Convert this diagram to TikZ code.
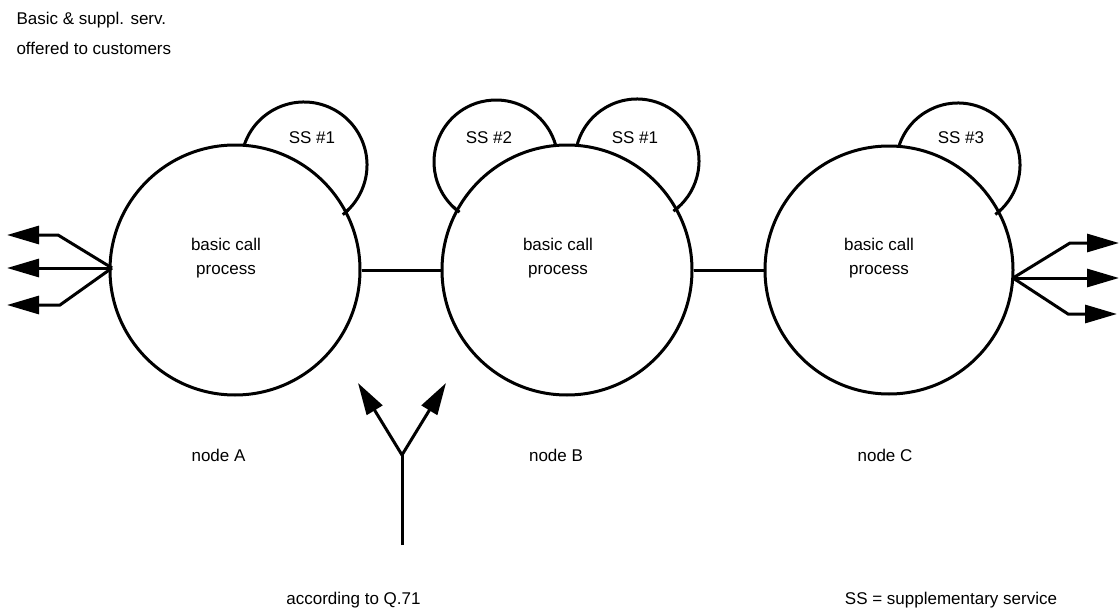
\documentclass[tikz,border=0pt]{standalone}
\usepackage{fontspec}
\setmainfont{Liberation Sans}
\usetikzlibrary{arrows.meta}

\begin{document}
\begin{tikzpicture}[x=1pt,y=1pt,
    line width=3pt,
    proc/.style={circle,draw,inner sep=0pt,minimum size=250pt},
    lbl/.style={inner sep=0pt,anchor=base,font=\fontsize{17}{20}\selectfont},
    lbll/.style={lbl,anchor=base west},
    ssarc/.style={line width=3pt},
    arrowout/.style={-{Triangle[length=32pt,width=18pt]}},
  ]
  \useasboundingbox (0,0) rectangle (1120,-610);

  % heading
  \node[lbll] (h1) at (15,-25) {Basic \& suppl. serv.};
  \node[lbll] (h2) at (15,-55) {offered to customers};

  % supplementary service bubbles
  \draw[ssarc] ([shift={(161:63)}]304,-165) arc[start angle=161,end angle=-52,radius=63];
  \draw[ssarc] ([shift={(234:62)}]496,-162) arc[start angle=234,end angle=15,radius=62];
  \draw[ssarc] ([shift={(165:62)}]637,-161) arc[start angle=165,end angle=-54,radius=62];
  \draw[ssarc] ([shift={(162:62)}]958,-165) arc[start angle=162,end angle=-53,radius=62];
  \node[lbl] (ssA1) at (312,-143) {SS \#1};
  \node[lbl] (ssB2) at (489,-143) {SS \#2};
  \node[lbl] (ssB1) at (635,-143) {SS \#1};
  \node[lbl] (ssC3) at (961,-143) {SS \#3};

  % basic call processes
  \node[proc,fill=white] (A) at (235,-270) {};
  \node[proc,fill=white] (B) at (567,-270) {};
  \node[proc,fill=white,minimum size=248pt] (C) at (889,-270) {};
  % bubble ends that cross into the circles
  \draw[ssarc] ([shift={(-45:63)}]304,-165) arc[start angle=-45,end angle=-52,radius=63];
  \draw[ssarc] ([shift={(234:62)}]496,-162) arc[start angle=234,end angle=226,radius=62];
  \draw[ssarc] ([shift={(-47:62)}]637,-161) arc[start angle=-47,end angle=-54,radius=62];
  \draw[ssarc] ([shift={(-46:62)}]958,-165) arc[start angle=-46,end angle=-53,radius=62];

  \node[lbl] (tA1) at (226,-250) {basic call};
  \node[lbl] (tA2) at (226,-274) {process};
  \node[lbl] (tB1) at (558,-250) {basic call};
  \node[lbl] (tB2) at (558,-274) {process};
  \node[lbl] (tC1) at (879,-250) {basic call};
  \node[lbl] (tC2) at (879,-274) {process};

  % links between nodes
  \draw (A.east) -- (B.west);
  \draw (B.east) -- (C.west);

  % customer access on node A
  \coordinate (pA) at (112,-268);
  \coordinate (kA1) at (58,-235);
  \coordinate (kA3) at (60,-305);
  \coordinate (eA1) at (7,-235);
  \coordinate (eA2) at (7,-268);
  \coordinate (eA3) at (7,-305);
  \draw[arrowout] (pA) -- (kA1) -- (eA1);
  \draw[arrowout] (pA) -- (eA2);
  \draw[arrowout] (pA) -- (kA3) -- (eA3);

  % customer access on node C
  \coordinate (pC) at (1013,-278);
  \coordinate (kC1) at (1070,-243);
  \coordinate (kC3) at (1068,-314);
  \coordinate (eC1) at (1119,-243);
  \coordinate (eC2) at (1119,-278);
  \coordinate (eC3) at (1117,-314);
  \draw[arrowout] (pC) -- (kC1) -- (eC1);
  \draw[arrowout] (pC) -- (eC2);
  \draw[arrowout] (pC) -- (kC3) -- (eC3);

  % Q.71 fork
  \coordinate (yb) at (402,-545);
  \coordinate (yf) at (402,-455);
  \coordinate (yl) at (358,-383);
  \coordinate (yr) at (446,-383);
  \draw (yb) -- (yf);
  \draw[arrowout] (yf) -- (yl);
  \draw[arrowout] (yf) -- (yr);

  % node names and notes
  \node[lbl] (nA) at (218.5,-461) {node A};
  \node[lbl] (nB) at (556,-461) {node B};
  \node[lbl] (nC) at (885,-461) {node C};
  \node[lbl] (q71) at (353.5,-604) {according to Q.71};
  \node[lbl] (key) at (951,-604) {SS = supplementary service};
\end{tikzpicture}
\end{document}
